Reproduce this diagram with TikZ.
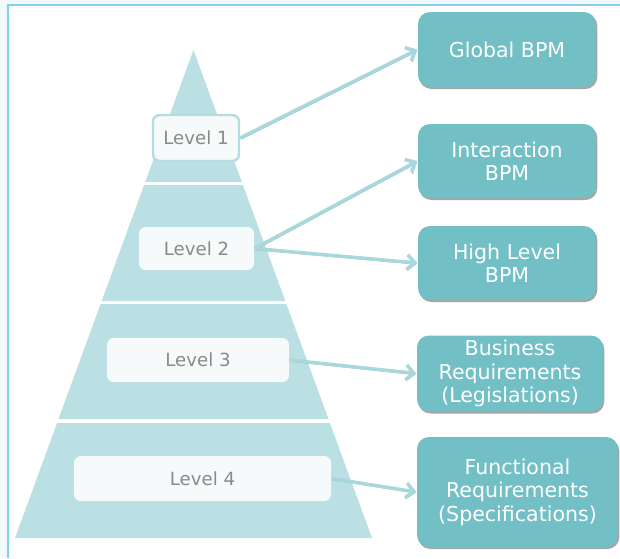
\documentclass[tikz,border=0pt]{standalone}
\usepackage{fontspec}
\setmainfont{DejaVu Sans}
\usetikzlibrary{arrows.meta,shadows}

\definecolor{tierfill}{HTML}{BBE0E3}
\definecolor{boxfill}{HTML}{72BFC5}
\definecolor{arrowteal}{HTML}{A8D8DC}
\definecolor{levelfill}{HTML}{F6FAFB}
\definecolor{levelline}{HTML}{B3DDE1}
\definecolor{leveltext}{HTML}{8A8A8A}
\definecolor{frameblue}{HTML}{84CEF0}
\definecolor{outertint}{HTML}{F1F9FD}

\tikzset{every picture/.style={line width=0.75pt}}
\tikzset{
  levelbox/.style={fill=levelfill, rounded corners=5pt, text=leveltext, inner sep=0pt,
    font=\fontsize{13.6}{16}\selectfont},
  bpmbox/.style={fill=boxfill, rounded corners=9pt, text=white, align=center, inner sep=0pt,
    font=\fontsize{15.4}{17.5}\selectfont,
    drop shadow={shadow xshift=1pt, shadow yshift=-1.5pt, opacity=0.35, fill=black}},
  linkarrow/.style={draw=arrowteal, line width=2.6pt, -{Straight Barb[length=6pt,width=11pt]},
    preaction={draw=black!55, opacity=0.6, transform canvas={xshift=0.5pt,yshift=-0.9pt}}},
}

\begin{document}
\begin{tikzpicture}[x=0.75pt,y=0.75pt,yscale=-1,xscale=1]
    \useasboundingbox (0,0) rectangle (620,558);

    %Frame
    \fill[outertint] (0,0) rectangle (620,558);
    \fill[white] (8,5) rectangle (620,558);
    \draw[frameblue, line width=1pt] (8,558) -- (8,5) -- (620,5);

    %Pyramid tiers
    \fill[tierfill] (193.5,50) -- (241.8,182) -- (145.2,182) -- cycle;
    \fill[tierfill] (144.1,185) -- (242.9,185) -- (285.3,301) -- (101.7,301) -- cycle;
    \fill[tierfill] (100.6,304) -- (286.4,304) -- (328.5,419) -- (58.5,419) -- cycle;
    \fill[tierfill] (57.1,423) -- (329.9,423) -- (372,538) -- (15,538) -- cycle;

    %Level labels
    \node[levelbox, draw=levelline, line width=1.8pt, minimum width=64.5pt, minimum height=34.5pt] (lvone) at (196,138) {Level 1};
    \node[levelbox, minimum width=86.25pt, minimum height=32.25pt] (lvtwo) at (196.5,248.5) {Level 2};
    \node[levelbox, minimum width=136.5pt, minimum height=33pt] (lvthree) at (198,360) {Level 3};
    \node[levelbox, minimum width=192.75pt, minimum height=33.75pt] (lvfour) at (202.5,478.5) {Level 4};

    %BPM boxes
    \node[bpmbox, minimum width=133.5pt, minimum height=56.25pt] (gbpm) at (507,49.5) {Global BPM};
    \node[bpmbox, minimum width=133.5pt, minimum height=55.5pt] (ibpm) at (507,161) {Interaction\\BPM};
    \node[bpmbox, minimum width=133.5pt, minimum height=55.5pt] (hbpm) at (507,263) {High Level\\BPM};
    \node[bpmbox, minimum width=139.5pt, minimum height=57pt] (breq) at (510,373.5) {Business\\Requirements\\(Legislations)};
    \node[bpmbox, minimum width=150.75pt, minimum height=82.5pt] (freq) at (517.5,492) {Functional\\Requirements\\(Specifications)};

    %Links
    \draw[linkarrow] (lvone.east) -- (gbpm.west);
    \draw[linkarrow] (lvtwo.east) -- (ibpm.west);
    \draw[linkarrow] (lvtwo.east) -- (hbpm.west);
    \draw[linkarrow] (lvthree.east) -- (breq.west);
    \draw[linkarrow] (lvfour.east) -- (freq.west);

\end{tikzpicture}
\end{document}
